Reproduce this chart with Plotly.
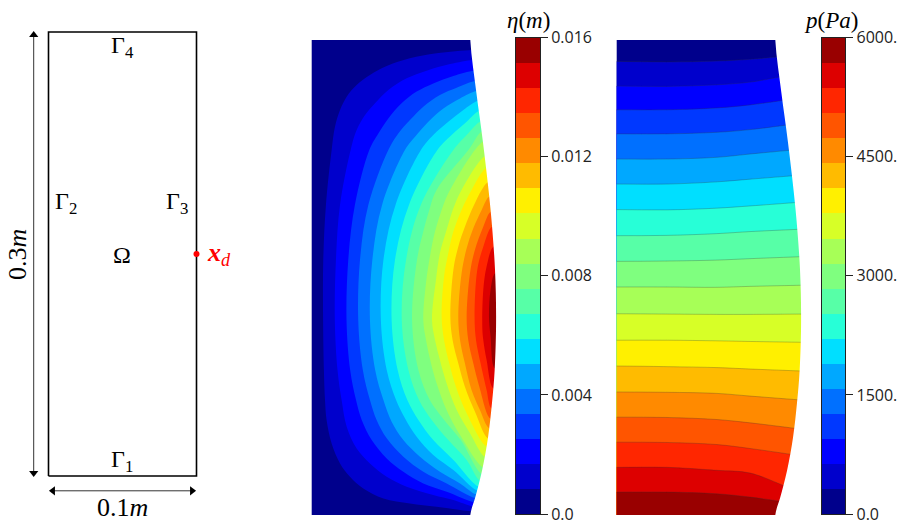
import numpy as np
import plotly.graph_objects as go

# deformed right wall of the column, mm
edge_y = [300, 267, 235.5, 193, 155, 123, 91.6, 70.7, 49, 28, 11, 0]
edge_x = [100.2, 104, 108.2, 113, 115.8, 116.5, 115.6, 113.9, 111.4, 107.6, 103.3, 100.2]

band_colors = ['#00008c', '#0000cc', '#0000ff', '#0038ff', '#0070ff', '#00a8ff', '#00dfff',
               '#27ffd7', '#57ffa7', '#7fff7f', '#a7ff57', '#d7ff27', '#fff000', '#ffbb00',
               '#ff8a00', '#ff5500', '#ff2600', '#dd0000', '#990000']

# eta contours: height where each one meets the wall (top, bottom) and points between, mm
eta_top = [293.7, 287.4, 280.6, 274.1, 267.8, 261.5, 255.1, 248.4, 242.1, 235.8, 226.4, 219,
           210, 201, 191.6, 182.1, 169.5, 152.7]
eta_bottom = [2.4, 5.4, 8.1, 10.7, 13, 15.5, 18.1, 21.9, 26.1, 30.3, 36.9, 43.2, 48.4, 54.8,
              61, 67.4, 80, 92.7]
eta_curves = [
    [(78.9, 291.6), (62, 288.4), (47.4, 283.6), (36.8, 277.9), (28.4, 271.6), (22.1, 264.2), (17.9, 255.8),
     (14.7, 245.2), (12.6, 230.5), (9, 195.9), (7.3, 161), (7.2, 123), (7.7, 91.6), (8.4, 72.6), (9.4, 60),
     (12.6, 45.2), (17.9, 32.6), (24.2, 24.2), (32.6, 16.8), (45.3, 10.5), (62.1, 7.3), (78.9, 5.2)],
    [(87.4, 284.8), (72.6, 280.6), (60, 275.8), (48.4, 268.4), (40, 260), (33.7, 252.6), (28.4, 243.1),
     (24.6, 230.5), (17.9, 195.9), (15.3, 161), (14.6, 123), (16.3, 91.6), (18.9, 72.6), (22.1, 55.8), (28.4, 42),
     (36.8, 32.6), (47.4, 24.2), (60, 17.9), (76.8, 12.6), (89.5, 9.4)],
    [(89.5, 277.3), (76.8, 272.6), (66.3, 267.4), (56.8, 260), (48.4, 250.5), (42.1, 241), (36.4, 230.5),
     (27.3, 195.9), (23.1, 161), (22, 123), (24.3, 91.6), (28, 72.6), (31.6, 60), (37.9, 47.3), (47.4, 35.7),
     (57.9, 27.3), (70.5, 19.9), (85.3, 14.7)],
    [(91.6, 269.9), (81, 265.3), (70.5, 257.9), (62.1, 249.5), (54.7, 241), (48.4, 230.5), (35.8, 195.9),
     (30.5, 161), (29.4, 123), (32.3, 91.6), (36.8, 72.6), (41, 60), (47.4, 48.4), (57.9, 36.8), (70.5, 27.3),
     (85.3, 19.9)],
    [(93.7, 263.1), (83.2, 256.8), (73.7, 248.4), (65.3, 238.9), (58.9, 230.5), (44.5, 195.9), (38.3, 161),
     (36.8, 123), (40.1, 91.6), (45.3, 72.6), (50.5, 58.9), (57.9, 47.3), (68.4, 36.8), (81, 27.3), (93.7, 19.9)],
    [(95.8, 255.8), (86.3, 248.4), (76.8, 240), (69, 230.5), (53, 195.9), (45.3, 161), (43.7, 123), (47.4, 91.6),
     (53.3, 72.6), (59, 61), (66.3, 49.4), (76.8, 37.9), (89.5, 28.4)],
    [(97.9, 248.4), (88.4, 240), (79.4, 230.5), (61.5, 195.9), (52.6, 161), (50.5, 123), (54.3, 91.6), (60.4, 72.6),
     (67.4, 60), (76.8, 47.3), (89.5, 34.7)],
    [(97.9, 240), (89.5, 230.5), (69, 195.9), (59.6, 161), (56.9, 123), (61.1, 91.6), (67.8, 72.6), (75.8, 60),
     (86.3, 47.3), (97.9, 34.7)],
    [(99, 230.5), (78.9, 205.3), (74.3, 192.7), (70.5, 179), (66.5, 161), (63.4, 123), (67.4, 91.6), (74.6, 72.6),
     (83.7, 60), (94.2, 47.3)],
    [(87.4, 205.3), (82.1, 192.7), (77.9, 179), (74.7, 163.2), (72.2, 146.3), (70.5, 123.2), (72.2, 110.6),
     (75.1, 96.9), (78.9, 83.2), (85.2, 66.3), (93.7, 50.5)],
    [(94.7, 205.3), (89.5, 193.7), (85.2, 180), (81, 165.3), (78.5, 148.4), (76, 123), (77.9, 110.6), (81, 97.9),
     (85.2, 83.2), (91.6, 66.3), (100, 51.6)],
    [(101, 205.3), (94.7, 192.7), (89.5, 179), (86.3, 165.3), (83.6, 150.5), (82.1, 125), (83.6, 110.6), (86.9, 95.8),
     (91.1, 81), (97.9, 64.2)],
    [(107.4, 205.3), (102.1, 194.8), (96.8, 182.1), (92.6, 169.5), (89.5, 154.8), (87.6, 125), (89, 110.6),
     (92.6, 95.8), (96.8, 81), (103.1, 65.3)],
    [(107.4, 192.7), (102.1, 181.1), (97.9, 168.4), (94.7, 152.7), (92.6, 125), (93.7, 110.6), (96.8, 95.8),
     (101, 79), (106.3, 66.3)],
    [(108.4, 182.1), (103.1, 167.4), (100, 152.7), (97.9, 125), (98.9, 110.6), (102.1, 95.8), (105.9, 81)],
    [(108.4, 169.5), (104.6, 154.8), (102.9, 125), (103.8, 110.6), (106.7, 95.8), (110.5, 79)],
    [(110.5, 156.9), (108.4, 142.1), (107.8, 118), (108.4, 110.6), (110.5, 97.9)],
    [(113, 142.1), (112, 125.3), (113, 112.7)],
]

# pressure contours: heights at p_x and where each one meets the wall, mm
p_x = [0, 31.7, 63.2, 84.3]
p_heights = [
    [286.5, 286.1, 286.7, 287.8], [270.9, 270.7, 271.7, 273.4], [255.9, 255.9, 257.1, 259],
    [240.7, 240.7, 241.7, 243.4], [224.8, 224.8, 225.9, 228], [209, 209, 210.4, 212.1],
    [192.9, 192.7, 193.8, 195.2], [176.4, 176.6, 177.7, 179], [160.2, 160.4, 161, 161.9],
    [144, 144, 143.8, 144.4], [127.1, 126.9, 126.7, 126.7], [110.4, 110.4, 110, 109.6],
    [94.1, 93.7, 93.1, 92.2], [77.7, 77.5, 76.8, 75.1], [61.8, 61.6, 60.3, 58.2],
    [46, 45.8, 44.5, 42], [30.1, 30.1, 28.2, 26.5], [14.5, 14.5, 13.4, 11.3],
]
p_wall = [289.3, 276.6, 261.8, 246.2, 230.3, 214.2, 197.3, 180.4, 163.1, 145.1, 126.9, 109.1,
          91, 72.8, 54.8, 38.4, 18.7, 8.8]

eta_ticks = [0, 0.004, 0.008, 0.012, 0.016]
eta_ticktext = ['0.0', '0.004', '0.008', '0.012', '0.016']
p_ticks = [0, 1500, 3000, 4500, 6000]
p_ticktext = ['0.0', '1500.', '3000.', '4500.', '6000.']

# schematic, metres
rect_x = [0, 0.1, 0.1, 0, 0]
rect_y = [0, 0, 0.3, 0.3, 0]
probe_x = [0.1]
probe_y = [0.15]

W, H = 906, 530
SERIF = 'Liberation Serif'
SANS = 'Open Sans'
LAP = 1.5  # fills run this far past the wall, the mask hides it
RUN = 4  # contours carry on this far past the wall before they turn back


def dom_x(a, b):
    return [a / W, b / W]


def dom_y(top, bottom):
    return [1 - bottom / H, 1 - top / H]


def wall(y):
    return float(np.interp(y, edge_y[::-1], edge_x[::-1]))


def wall_between(y_high, y_low):
    # wall points from y_high down to y_low, pushed out by LAP
    pts = [(x + LAP, y) for x, y in zip(edge_x, edge_y) if y_low < y < y_high]
    return [p[0] for p in pts], [p[1] for p in pts]


def band(fig, xs, ys, color, ax, line=None):
    fig.add_trace(go.Scatter(
        x=xs, y=ys, mode='lines', fill='toself', fillcolor=color,
        line=line or dict(width=0, shape='spline', smoothing=1),
        xaxis=ax[0], yaxis=ax[1], hoverinfo='skip', showlegend=False
    ))


def add_base(fig, ax):
    wx, wy = wall_between(400, -100)
    xs = [-30, wx[0]] + wx + [wx[-1], -30, -30]
    ys = [330, 330] + wy + [-30, -30, 330]
    fig.add_trace(go.Scatter(
        x=xs, y=ys, mode='lines', fill='toself', fillcolor=band_colors[0], line=dict(width=0),
        xaxis=ax[0], yaxis=ax[1], hoverinfo='skip', showlegend=False
    ))


def add_mask(fig, ax):
    xs = [edge_x[0]] + edge_x + [edge_x[-1], 150, 150]
    ys = [330] + edge_y + [-30, -30, 330]
    band(fig, xs, ys, 'white', ax)


def colorbar(fig, vmax, ax):
    step = vmax / 19
    fig.add_trace(go.Bar(
        x=[0] * 19, y=[step] * 19, base=[step * i for i in range(19)], width=1,
        marker=dict(color=band_colors, line=dict(width=0)),
        xaxis=ax[0], yaxis=ax[1], hoverinfo='skip', showlegend=False
    ))


fig = go.Figure()

# eta field
ax = ('x', 'y')
add_base(fig, ax)
for i, curve in enumerate(eta_curves):
    wx, wy = wall_between(eta_top[i], eta_bottom[i])
    top_x, bot_x = wall(eta_top[i]), wall(eta_bottom[i])
    cx = [top_x + RUN, top_x] + [c[0] for c in curve] + [bot_x, bot_x + RUN] + wx[::-1] + [top_x + RUN]
    cy = [eta_top[i], eta_top[i]] + [c[1] for c in curve] + [eta_bottom[i], eta_bottom[i]] + wy[::-1] + [eta_top[i]]
    band(fig, cx, cy, band_colors[i + 1], ax)
add_mask(fig, ax)

# pressure field
ax = ('x2', 'y2')
p_line = dict(width=0.6, color='rgba(50,50,50,0.45)', shape='spline', smoothing=1)
add_base(fig, ax)
for i, hs in enumerate(p_heights):
    wx, wy = wall_between(p_wall[i] - 6, -100)
    end_x = wall(p_wall[i])
    rise = (p_wall[i] - hs[-1]) / (end_x - p_x[-1]) * RUN
    cx = [-30] + p_x + [end_x, end_x + RUN] + wx + [wx[-1], -30, -30]
    cy = [hs[0]] + hs + [p_wall[i], p_wall[i] + rise] + wy + [-30, -30, hs[0]]
    band(fig, cx, cy, band_colors[i + 1], ax, line=p_line)
add_mask(fig, ax)

colorbar(fig, eta_ticks[-1], ('x3', 'y3'))
colorbar(fig, p_ticks[-1], ('x4', 'y4'))

# schematic
fig.add_trace(go.Scatter(
    x=rect_x, y=rect_y, mode='lines', line=dict(color='black', width=1.6),
    xaxis='x5', yaxis='y5', hoverinfo='skip', showlegend=False
))
fig.add_trace(go.Scatter(
    x=[-0.0100, -0.0100], y=[0.0020, 0.2980], mode='lines+markers',
    line=dict(color='#333333', width=1),
    marker=dict(symbol=['triangle-down', 'triangle-up'], size=8, color='black', line=dict(width=0)),
    xaxis='x5', yaxis='y5', hoverinfo='skip', showlegend=False
))
fig.add_trace(go.Scatter(
    x=[0.0030, 0.0970], y=[-0.0100, -0.0100], mode='lines+markers',
    line=dict(color='#333333', width=1),
    marker=dict(symbol=['triangle-left', 'triangle-right'], size=8, color='black', line=dict(width=0)),
    xaxis='x5', yaxis='y5', hoverinfo='skip', showlegend=False
))
fig.add_trace(go.Scatter(
    x=probe_x, y=probe_y, mode='markers', marker=dict(color='red', size=6),
    xaxis='x5', yaxis='y5', hoverinfo='skip', showlegend=False
))

labels = [
    ('Γ<sub>4</sub>', 0.0497, 0.2899, 'black', 0, 24),
    ('Γ<sub>2</sub>', 0.0118, 0.1845, 'black', 0, 24),
    ('Γ<sub>3</sub>', 0.0868, 0.1845, 'black', 0, 24),
    ('Ω', 0.0497, 0.1493, 'black', 0, 24),
    ('Γ<sub>1</sub>', 0.0497, 0.0101, 'black', 0, 24),
    ('<b><i>x</i></b><sub><i>d</i></sub>', 0.1152, 0.1500, 'red', 0, 26),
    ('0.3<i>m</i>', -0.0213, 0.1500, 'black', -90, 26),
    ('0.1<i>m</i>', 0.0500, -0.0216, 'black', 0, 26),
]
annotations = []
for text, x, y, color, angle, size in labels:
    annotations.append(dict(
        text=text, x=x, y=y, xref='x5', yref='y5', showarrow=False, textangle=angle,
        xanchor='center', yanchor='middle',
        font=dict(family=SERIF, size=size, color=color)
    ))
annotations.append(dict(text='<i>η</i>(<i>m</i>)', x=528 / W, y=1 - 21 / H, xref='paper', yref='paper',
                        xanchor='center', yanchor='middle',
                        showarrow=False, font=dict(family=SERIF, size=23, color='black')))
annotations.append(dict(text='<i>p</i>(<i>Pa</i>)', x=831 / W, y=1 - 21 / H, xref='paper', yref='paper',
                        xanchor='center', yanchor='middle',
                        showarrow=False, font=dict(family=SERIF, size=23, color='black')))

hidden = dict(visible=False, showgrid=False, zeroline=False)
bar_x = dict(range=[-0.5, 0.5], showticklabels=False, ticks='', showgrid=False, zeroline=False,
             showline=True, mirror=True, linecolor='#222222', linewidth=1)
bar_y = dict(side='right', ticks='outside', ticklen=7, tickcolor='#222222', showgrid=False, zeroline=False,
             showline=True, mirror=True, linecolor='#222222', linewidth=1,
             tickfont=dict(family=SANS, size=16, color='#222222'))

fig.update_layout(
    width=W, height=H, autosize=False,
    margin=dict(l=0, r=0, t=0, b=0, pad=0, autoexpand=False),
    plot_bgcolor='white', paper_bgcolor='white',
    barmode='overlay', bargap=0,
    annotations=annotations,
    xaxis=dict(hidden, range=[0, 122], domain=dom_x(311.7, 504.8)),
    yaxis=dict(hidden, range=[0, 300], domain=dom_y(40, 515)),
    xaxis2=dict(hidden, range=[0, 122], domain=dom_x(616.7, 809.8)),
    yaxis2=dict(hidden, range=[0, 300], domain=dom_y(40, 515)),
    xaxis3=dict(bar_x, domain=dom_x(516, 540), anchor='y3'),
    yaxis3=dict(bar_y, anchor='x3', range=[0, eta_ticks[-1]], domain=dom_y(37.7, 514),
                tickvals=eta_ticks, ticktext=eta_ticktext),
    xaxis4=dict(bar_x, domain=dom_x(821.7, 845.3), anchor='y4'),
    yaxis4=dict(bar_y, anchor='x4', range=[0, p_ticks[-1]], domain=dom_y(37.7, 514),
                tickvals=p_ticks, ticktext=p_ticktext),
    xaxis5=dict(hidden, range=[-48.5 / 1480, (260 - 48.5) / 1480], domain=dom_x(0, 260), anchor='y5'),
    yaxis5=dict(hidden, range=[(476 - 530) / 1480, 476 / 1480], domain=[0, 1], anchor='x5'),
)

fig.write_html("out.html", config={'displayModeBar': False},
               post_script="document.body.style.margin='0';")
